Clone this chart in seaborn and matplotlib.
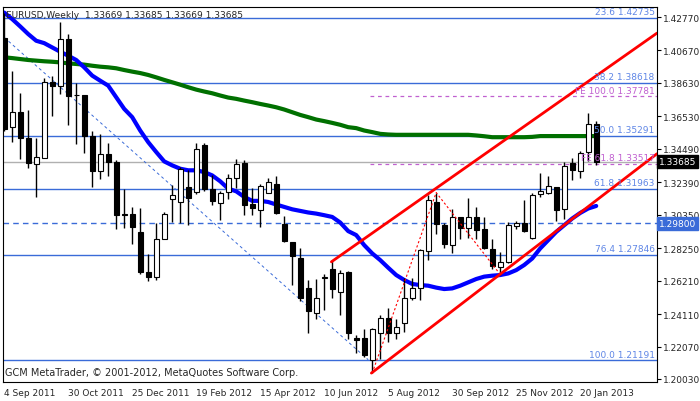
import matplotlib
matplotlib.use("Agg")
import matplotlib.pyplot as plt
import seaborn as sns
import numpy as np
import pandas as pd

sns.set_style("white")
plt.rcParams['font.family'] = ['DejaVu Sans']

# weekly OHLC, EURUSD, from 4 Sep 2011
opens = [1.4148,1.3584,1.3678,1.3516,1.3355,1.3393,1.3871,1.3845,1.4138,1.3787,
         1.3787,1.3532,1.3309,1.3418,1.3365,1.3035,1.3039,1.2927,1.2676,1.2645,
         1.2885,1.3131,1.3115,1.3209,1.3177,1.3470,1.3198,1.3110,1.3177,1.3265,
         1.3360,1.3104,1.3062,1.3173,1.3227,1.2976,1.2863,1.2764,1.2572,1.2415,
         1.2640,1.2697,1.2547,1.2676,1.2263,1.2263,1.2123,1.2290,1.2384,1.2290,
         1.2353,1.2509,1.2572,1.2806,1.3115,1.2973,1.2844,1.3021,1.2952,1.3021,
         1.2943,1.2819,1.2708,1.2739,1.2964,1.2983,1.2889,1.3167,1.3173,1.3209,
         1.3068,1.3360,1.3307,1.3427,1.3608]
highs = [1.4300,1.3939,1.3797,1.3693,1.3516,1.3891,1.3904,1.4246,1.4171,1.3860,
         1.3790,1.3564,1.3543,1.3484,1.3380,1.3194,1.3083,1.3079,1.2791,1.2985,
         1.3052,1.3219,1.3334,1.3319,1.3486,1.3486,1.3282,1.3187,1.3292,1.3386,
         1.3380,1.3200,1.3230,1.3267,1.3277,1.3024,1.2863,1.2827,1.2624,1.2628,
         1.2660,1.2749,1.2687,1.2680,1.2279,1.2317,1.2321,1.2405,1.2446,1.2380,
         1.2639,1.2639,1.2818,1.3156,1.3173,1.2985,1.3073,1.3021,1.3140,1.3083,
         1.3021,1.2881,1.2802,1.2990,1.2993,1.3129,1.3173,1.3300,1.3279,1.3209,
         1.3365,1.3390,1.3435,1.3671,1.3622]
lows = [1.3560,1.3490,1.3386,1.3328,1.3146,1.3390,1.3653,1.3793,1.3599,1.3480,
        1.3424,1.3209,1.3257,1.3277,1.2944,1.2952,1.2854,1.2661,1.2618,1.2624,
        1.2881,1.2987,1.2981,1.2968,1.3167,1.3181,1.3094,1.2999,1.3131,1.3204,
        1.3036,1.3033,1.2955,1.3169,1.3039,1.2863,1.2596,1.2492,1.2290,1.2380,
        1.2436,1.2513,1.2405,1.2254,1.2165,1.2143,1.2040,1.2129,1.2238,1.2254,
        1.2296,1.2498,1.2498,1.2749,1.2916,1.2823,1.2797,1.2885,1.2889,1.2885,
        1.2819,1.2693,1.2659,1.2729,1.2948,1.2927,1.2885,1.3148,1.3167,1.2995,
        1.3010,1.3250,1.3266,1.3373,1.3350]
closes = [1.3574,1.3678,1.3516,1.3359,1.3397,1.3871,1.3845,1.4138,1.3783,1.3785,
          1.3532,1.3307,1.3418,1.3365,1.3031,1.3033,1.2956,1.2672,1.2645,1.2885,
          1.3042,1.3161,1.3323,1.3140,1.3449,1.3198,1.3119,1.3173,1.3265,1.3354,
          1.3094,1.3077,1.3214,1.3242,1.3045,1.2871,1.2777,1.2513,1.2430,1.2513,
          1.2642,1.2568,1.2666,1.2290,1.2248,1.2154,1.2317,1.2388,1.2290,1.2332,
          1.2513,1.2576,1.2812,1.3125,1.2979,1.2854,1.3021,1.2952,1.3021,1.2937,
          1.2827,1.2714,1.2739,1.2973,1.2983,1.2931,1.3156,1.3183,1.3213,1.3062,
          1.3340,1.3318,1.3421,1.3602,1.33685]
ma_blue = [1.4305,1.4264,1.4218,1.4170,1.4128,1.4113,1.4086,1.4059,1.4034,1.4007,
           1.3961,1.3909,1.3877,1.3846,1.3773,1.3700,1.3648,1.3564,1.3491,1.3429,
           1.3370,1.3345,1.3324,1.3314,1.3314,1.3303,1.3282,1.3245,1.3199,1.3182,
           1.3147,1.3122,1.3122,1.3115,1.3099,1.3084,1.3069,1.3059,1.3049,1.3042,
           1.3032,1.3021,1.2986,1.2932,1.2907,1.2844,1.2792,1.2750,1.2702,1.2656,
           1.2625,1.2600,1.2593,1.2589,1.2577,1.2568,1.2572,1.2589,1.2610,1.2631,
           1.2646,1.2652,1.2656,1.2666,1.2687,1.2719,1.2760,1.2823,1.2875,1.2927,
           1.2969,1.3011,1.3046,1.3074,1.3090]
ma_green = [1.4024,1.4019,1.4013,1.4007,1.4003,1.3999,1.3996,1.3992,1.3986,1.3982,
            1.3978,1.3971,1.3965,1.3961,1.3955,1.3944,1.3934,1.3925,1.3913,1.3898,
            1.3882,1.3867,1.3852,1.3836,1.3821,1.3809,1.3798,1.3784,1.3771,1.3763,
            1.3752,1.3742,1.3731,1.3721,1.3710,1.3696,1.3679,1.3662,1.3648,1.3633,
            1.3623,1.3612,1.3600,1.3585,1.3579,1.3564,1.3554,1.3543,1.3539,1.3537,
            1.3537,1.3537,1.3537,1.3537,1.3537,1.3537,1.3537,1.3537,1.3537,1.3533,
            1.3528,1.3522,1.3522,1.3522,1.3522,1.3522,1.3524,1.3529,1.3529,1.3529,
            1.3529,1.3529,1.3529,1.3529,1.3529]

fib_levels = [1.42735, 1.38618, 1.35291, 1.31963, 1.27846, 1.21191]
fib_labels = ["23.6 1.42735", "38.2 1.38618", "50.0 1.35291", "61.8 1.31963",
              "76.4 1.27846", "100.0 1.21191"]
fe_levels = [1.37781, 1.33517]
fe_labels = ["FE 100.0 1.37781", "FE 61.8 1.33517"]
yticks = [1.42770,1.40670,1.38630,1.36530,1.34490,1.32390,1.30350,1.28250,
          1.26210,1.24110,1.22070,1.20030]
xtick_pos = [0, 8, 16, 24, 32, 40, 48, 56, 64, 72]
xtick_labels = ["4 Sep 2011","30 Oct 2011","25 Dec 2011","19 Feb 2012","15 Apr 2012",
                "10 Jun 2012","5 Aug 2012","30 Sep 2012","25 Nov 2012","20 Jan 2013"]
chan_upper = ([40.9, 81.6], [1.2739, 1.4176])
chan_lower = ([45.9, 81.6], [1.2040, 1.3418])
trend_dash = ([0, 45.5], [1.4149, 1.2124])
zigzag = ([46, 54, 62], [1.2040, 1.3174, 1.2660])

fig = plt.figure(figsize=(7, 4.02), dpi=100)
ax = fig.add_axes([3/700, 19/402, 654/700, 375/402])
n = len(opens)
x = np.arange(n)
XMIN, XMAX = -0.15, 81.6
ax.set_xlim(XMIN, XMAX)
ax.set_ylim(1.1984, 1.4340)

blue = '#3a6bd8'
for lv in fib_levels:
    ax.axhline(lv, color=blue, lw=1, zorder=1)
ax.axhline(1.33685, color='#b0b0b0', lw=1, zorder=1)
ax.axhline(1.29800, color=blue, lw=1, ls=(0, (4, 3)), zorder=1)
for lv in fe_levels:
    ax.plot([45.75, XMAX], [lv, lv], color='#c060d0', lw=0.9, ls=(0, (3, 3)), zorder=1)
ax.plot(*trend_dash, color=blue, lw=0.7, ls=(0, (3, 3)), zorder=1)

df = pd.DataFrame({"x": x, "blue": ma_blue, "green": ma_green})
sns.lineplot(data=df, x="x", y="green", color='#007000', lw=3, ax=ax, zorder=2)
sns.lineplot(data=df, x="x", y="blue", color='#0000ff', lw=3, ax=ax, zorder=2)

o = np.array(opens); c = np.array(closes)
ax.vlines(x, lows, highs, color='black', lw=1, zorder=3)
up = c >= o
bottom = np.minimum(o, c)
height = np.maximum(np.abs(c - o), 0.0004)
ax.bar(x, height, bottom=bottom, width=0.6,
       color=np.where(up, 'white', 'black'), edgecolor='black', lw=0.8, zorder=4)

ax.plot(*chan_upper, color='#ff0000', lw=2, zorder=5)
ax.plot(*chan_lower, color='#ff0000', lw=2, zorder=5)
ax.plot(*zigzag, color='#ff0000', lw=0.8, ls=(0, (2, 2)), zorder=5)

for lv, lb in zip(fib_levels, fib_labels):
    ax.text(XMAX - 0.3, lv + 0.0012, lb, color='#5f86e6', fontsize=6.5, ha='right', va='bottom', zorder=6)
for lv, lb in zip(fe_levels, fe_labels):
    ax.text(XMAX - 0.3, lv + 0.0012, lb, color='#c060d0', fontsize=6.5, ha='right', va='bottom', zorder=6)

ax.text(0.004, 0.993, "EURUSD,Weekly  1.33669 1.33685 1.33669 1.33685",
        transform=ax.transAxes, fontsize=6.5, va='top', ha='left', zorder=7)
ax.text(0.003, 0.012, "GCM MetaTrader, © 2001-2012, MetaQuotes Software Corp.",
        transform=ax.transAxes, fontsize=7, va='bottom', ha='left')

ax.yaxis.tick_right()
ax.set_yticks(yticks)
ax.set_yticklabels([f"{v:.5f}" for v in yticks], fontsize=6.5)
ax.set_xticks(xtick_pos)
ax.set_xticklabels(xtick_labels, fontsize=6.5, ha='left')
ax.tick_params(axis='both', length=3, width=0.8, color='black', pad=1, direction='out')
ax.set_xlabel(""); ax.set_ylabel("")
for s in ax.spines.values():
    s.set_color('black'); s.set_linewidth(0.8)

ax.text(1.003, 1.33685, "1.33685", transform=ax.get_yaxis_transform(), fontsize=6.5,
        color='white', va='center', ha='left',
        bbox=dict(boxstyle='square,pad=0.2', fc='black', ec='black'))
ax.text(1.003, 1.29800, "1.29800", transform=ax.get_yaxis_transform(), fontsize=6.5,
        color='white', va='center', ha='left',
        bbox=dict(boxstyle='square,pad=0.2', fc='#3a6bd8', ec='#3a6bd8'))

fig.savefig("out.png", dpi=100)
